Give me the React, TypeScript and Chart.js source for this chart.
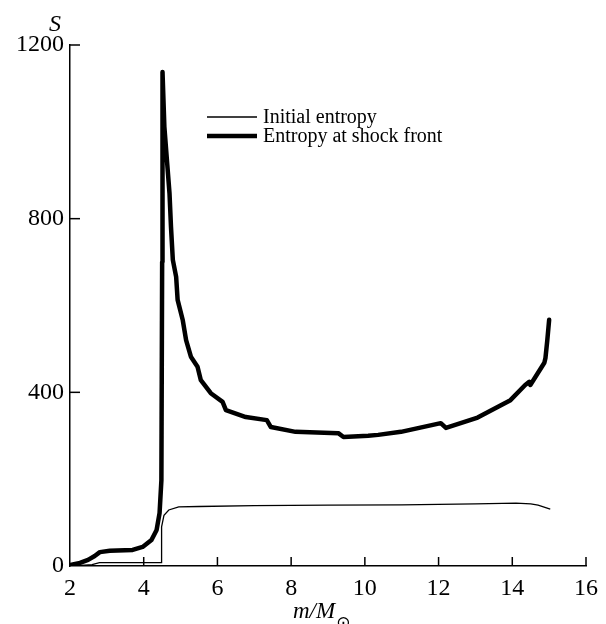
import React, { useEffect, useRef } from "react";
import { Chart, registerables } from "chart.js";

Chart.register(...registerables);

// Mass coordinate m/M_sun and entropy S at the shock front
const shockMass = [
  2.0, 2.27, 2.49, 2.67, 2.81, 3.08, 3.7, 3.97, 4.21, 4.35, 4.43, 4.48, 4.5, 4.51,
  4.56, 4.63, 4.7, 4.74, 4.79, 4.88, 4.92, 5.06, 5.15, 5.28, 5.46, 5.55, 5.82,
  6.14, 6.23, 6.77, 7.34, 7.45, 8.12, 9.28, 9.42, 10.09, 10.36, 10.98, 12.06,
  12.2, 13.06, 13.95, 14.35, 14.46, 14.49, 14.87, 14.9, 14.95, 15.0,
];
const shockEntropy = [
  2, 7, 14, 23, 32, 35, 37, 44, 60, 83, 122, 198, 700, 1138,
  1012, 935, 858, 781, 705, 666, 613, 566, 520, 482, 459, 428, 398,
  378, 359, 343, 336, 320, 309, 306, 297, 300, 302, 309, 329,
  318, 342, 382, 417, 424, 417, 468, 479, 520, 567,
];

// Initial entropy profile
const initialMass = [
  2.0, 2.4, 2.6, 2.8, 4.47, 4.48, 4.49, 4.55, 4.68, 4.95, 5.5, 7.0, 9.0, 11.0,
  13.0, 14.1, 14.5, 14.7, 15.03,
];
const initialEntropy = [
  0, 2, 3, 8, 8, 10, 90, 117, 129, 136, 137, 139, 140, 141,
  143, 145, 143, 140, 131,
];

const xTicks = [2, 4, 6, 8, 10, 12, 14, 16];
const yTicks = [0, 400, 800, 1200];

const legendLabels = ["Initial entropy", "Entropy at shock front"];
const yTitle = "S";
const xTitleMain = "m/M";
const xTitleSub = "\u2299";

const SERIF = "'Liberation Serif', 'DejaVu Serif', serif";

const toPoints = (xs: number[], ys: number[]) => xs.map((x, i) => ({ x, y: ys[i] }));

const decorations = {
  id: "decorations",
  afterDraw(chart: any) {
    const { ctx, chartArea, scales } = chart;
    const xs = scales.x;
    const ys = scales.y;
    ctx.save();
    ctx.strokeStyle = "#000";
    ctx.lineWidth = 1.5;
    // inward tick marks
    xTicks.forEach((v) => {
      if (v === 2) return;
      const px = xs.getPixelForValue(v);
      ctx.beginPath();
      ctx.moveTo(px, chartArea.bottom);
      ctx.lineTo(px, chartArea.bottom - 9);
      ctx.stroke();
    });
    yTicks.forEach((v) => {
      if (v === 0) return;
      const py = ys.getPixelForValue(v);
      ctx.beginPath();
      ctx.moveTo(chartArea.left, py);
      ctx.lineTo(chartArea.left + 10, py);
      ctx.stroke();
    });

    // legend
    const lx0 = 207;
    const lx1 = 257;
    const rows = [117, 136];
    const widths = [1.3, 4.5];
    ctx.fillStyle = "#000";
    ctx.font = `20px ${SERIF}`;
    ctx.textBaseline = "middle";
    ctx.textAlign = "left";
    rows.forEach((y, i) => {
      ctx.lineWidth = widths[i];
      ctx.beginPath();
      ctx.moveTo(lx0, y);
      ctx.lineTo(lx1, y);
      ctx.stroke();
      ctx.fillText(legendLabels[i], 263, y + 1);
    });

    // axis titles
    ctx.font = `italic 24px ${SERIF}`;
    ctx.textAlign = "center";
    ctx.textBaseline = "alphabetic";
    ctx.fillText(yTitle, 55, 31);

    ctx.font = `italic 23px ${SERIF}`;
    ctx.textAlign = "left";
    ctx.fillText(xTitleMain, 293, 618);
    const w = ctx.measureText(xTitleMain).width;
    ctx.font = `17px 'DejaVu Sans', sans-serif`;
    ctx.fillText(xTitleSub, 293 + w + 1, 628);
    ctx.restore();
  },
};

export default function App() {
  const canvasRef = useRef<HTMLCanvasElement | null>(null);

  useEffect(() => {
    document.body.style.margin = "0";
    const canvas = canvasRef.current;
    if (!canvas) return;
    const chart = new Chart(canvas, {
      type: "line",
      data: {
        datasets: [
          {
            label: legendLabels[0],
            data: toPoints(initialMass, initialEntropy),
            borderColor: "#000",
            borderWidth: 1.3,
            pointRadius: 0,
            tension: 0,
            fill: false,
          },
          {
            label: legendLabels[1],
            data: toPoints(shockMass, shockEntropy),
            borderColor: "#000",
            borderWidth: 4.5,
            pointRadius: 0,
            tension: 0,
            fill: false,
            borderJoinStyle: "round",
            borderCapStyle: "round",
          },
        ],
      },
      options: {
        animation: false,
        responsive: false,
        maintainAspectRatio: false,
        layout: { padding: { left: 0, top: 45, right: 17, bottom: 0 } },
        plugins: { legend: { display: false }, tooltip: { enabled: false } },
        scales: {
          x: {
            type: "linear",
            min: 2,
            max: 16,
            afterBuildTicks: (s: any) => {
              s.ticks = xTicks.map((v) => ({ value: v }));
            },
            afterFit: (s: any) => {
              s.height = 58;
            },
            grid: { display: false, drawTicks: false },
            border: { display: true, color: "#000", width: 1.5 },
            ticks: {
              color: "#000",
              padding: 8,
              maxRotation: 0,
              font: { family: SERIF, size: 24 },
              callback: (v: any) => String(v),
            },
          },
          y: {
            type: "linear",
            min: 0,
            max: 1200,
            afterBuildTicks: (s: any) => {
              s.ticks = yTicks.map((v) => ({ value: v }));
            },
            afterFit: (s: any) => {
              s.width = 70;
            },
            grid: { display: false, drawTicks: false },
            border: { display: true, color: "#000", width: 1.5 },
            ticks: {
              color: "#000",
              padding: 6,
              font: { family: SERIF, size: 24 },
              callback: (v: any) => String(v),
            },
          },
        },
      },
      plugins: [decorations],
    });
    return () => chart.destroy();
  }, []);

  return (
    <div style={{ position: "absolute", left: 0, top: 0, width: 606, height: 624, background: "#fff" }}>
      <canvas ref={canvasRef} width={606} height={624} style={{ display: "block" }} />
    </div>
  );
}
